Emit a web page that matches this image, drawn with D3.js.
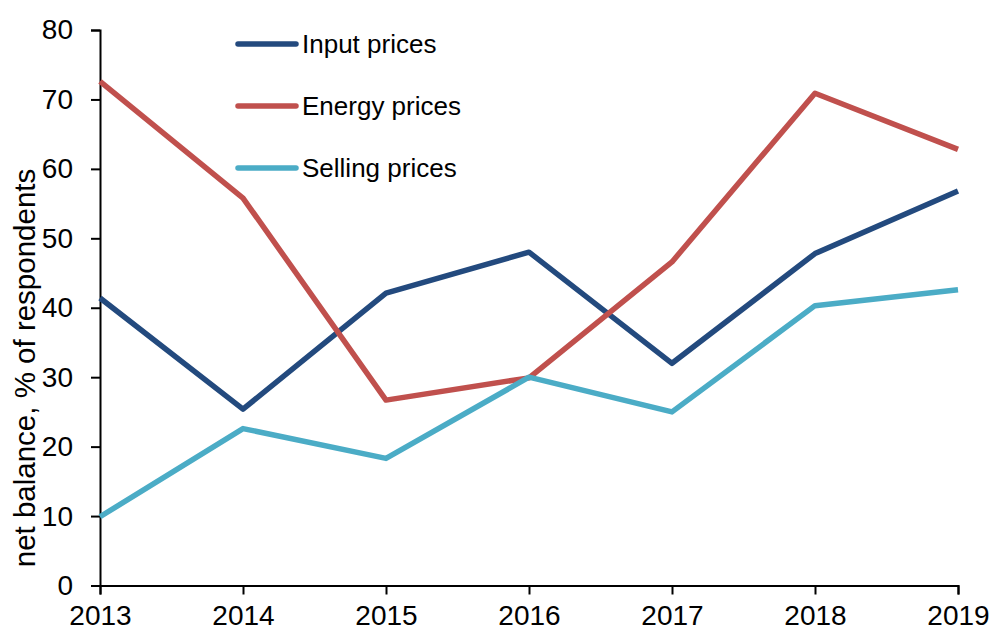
<!DOCTYPE html>
<html>
<head>
	<meta charset="utf-8">
	<title>Price balances</title>
	<style>
		body { margin: 0; background: #fff; }
		text { font-family: "Liberation Sans", Arial, sans-serif; fill: #000; }
	</style>
</head>
<body>
<div id="chart"></div>
<script src="https://d3js.org/d3.v7.min.js"></script>
<script>

	// data
	var years = [2013, 2014, 2015, 2016, 2017, 2018, 2019];
	var inputPrices = [41.4, 25.4, 42.1, 48.0, 32.0, 47.8, 56.8];
	var energyPrices = [72.6, 55.8, 26.7, 29.9, 46.6, 70.9, 62.8];
	var sellingPrices = [9.9, 22.6, 18.3, 30.0, 25.0, 40.3, 42.6];
	var yTicks = [0, 10, 20, 30, 40, 50, 60, 70, 80];

	var series = [
		{name: 'Input prices', values: inputPrices, color: '#234a7e'},
		{name: 'Energy prices', values: energyPrices, color: '#c0504d'},
		{name: 'Selling prices', values: sellingPrices, color: '#4bacc6'}
	];

	var width = 993;
	var height = 632;
	var plotLeft = 100, plotRight = 958, plotTop = 30, plotBottom = 585.5;

	var svg = d3.select('#chart')
		.append('svg')
		.attr('width', width)
		.attr('height', height);

	var x = d3.scaleLinear()
		.domain([2013, 2019])
		.range([plotLeft, plotRight]);

	var y = d3.scaleLinear()
		.domain([0, 80])
		.range([plotBottom, plotTop]);

	// y axis
	var yAxis = svg.append('g')
		.attr('transform', 'translate(' + plotLeft + ',0)')
		.call(d3.axisLeft(y).tickValues(yTicks).tickSize(9).tickPadding(18).tickFormat(d3.format('d')));

	// x axis
	var xAxis = svg.append('g')
		.attr('transform', 'translate(0,' + plotBottom + ')')
		.call(d3.axisBottom(x).tickValues(years).tickSize(9).tickPadding(11).tickFormat(d3.format('d')));

	svg.selectAll('.domain, .tick line')
		.attr('stroke', '#000')
		.attr('stroke-width', 2);

	svg.selectAll('.tick text')
		.attr('font-size', 28)
		.attr('font-family', '"Liberation Sans", Arial, sans-serif')
		.attr('fill', '#000');

	// axis title
	svg.append('text')
		.attr('transform', 'translate(35,368) rotate(-90)')
		.attr('text-anchor', 'middle')
		.attr('font-size', 29.5)
		.text('net balance, % of respondents');

	var line = d3.line()
		.x(function(d, i){ return x(years[i]); })
		.y(function(d){ return y(d); });

	svg.selectAll('.series')
		.data(series)
		.enter()
		.append('path')
		.attr('class', 'series')
		.attr('d', function(d){ return line(d.values); })
		.attr('fill', 'none')
		.attr('stroke', function(d){ return d.color; })
		.attr('stroke-width', 5.5)
		.attr('stroke-linejoin', 'round');

	// legend
	var legend = svg.selectAll('.legend')
		.data(series)
		.enter()
		.append('g')
		.attr('class', 'legend')
		.attr('transform', function(d, i){ return 'translate(238,' + (44 + i * 62) + ')'; });

	legend.append('line')
		.attr('x1', 0)
		.attr('x2', 58)
		.attr('stroke', function(d){ return d.color; })
		.attr('stroke-width', 5.5)
		.attr('stroke-linecap', 'round');

	legend.append('text')
		.attr('x', 64)
		.attr('y', 9)
		.attr('font-size', 26)
		.text(function(d){ return d.name; });

</script>
</body>
</html>
